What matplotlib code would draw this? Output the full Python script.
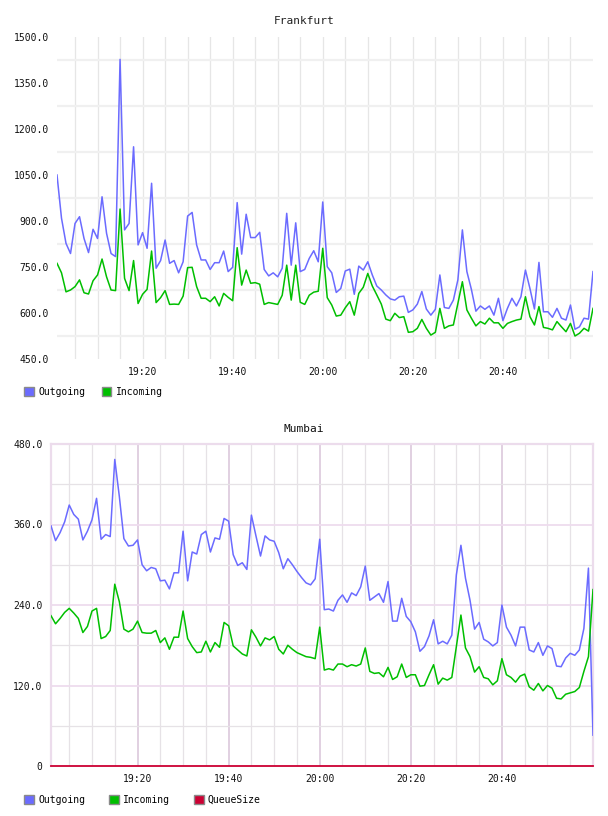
import matplotlib
matplotlib.use("Agg")
import matplotlib.pyplot as plt
from matplotlib.patches import Patch
import numpy as np

# ---- data ----
minutes = np.arange(1, 121)  # minutes after 19:00 (19:01 .. 21:00)
tick_pos = [20, 40, 60, 80, 100]
tick_labels = ["19:20", "19:40", "20:00", "20:20", "20:40"]

fra_out = [1050, 909, 827, 794, 892, 914, 843, 797, 873, 843,
           979, 860, 794, 784, 1427, 871, 892, 1142, 822, 862,
           811, 1023, 746, 771, 838, 762, 771, 731, 767, 916,
           928, 822, 773, 773, 742, 764, 764, 802, 735, 749,
           960, 792, 922, 846, 846, 863, 742, 721, 731, 718,
           746, 925, 756, 894, 735, 742, 778, 803, 767, 962,
           751, 731, 667, 680, 737, 743, 661, 753, 740, 767,
           724, 688, 675, 659, 646, 642, 653, 655, 602, 610,
           629, 670, 613, 593, 612, 724, 618, 615, 642, 708,
           871, 735, 677, 606, 623, 612, 623, 593, 648, 575,
           615, 648, 623, 653, 740, 680, 613, 765, 604, 604,
           586, 615, 583, 577, 626, 547, 555, 583, 580, 735]
fra_in = [762, 731, 669, 675, 686, 708, 666, 662, 705, 724,
          776, 718, 675, 673, 939, 713, 673, 771, 631, 661,
          677, 802, 634, 650, 673, 628, 629, 628, 655, 748,
          749, 686, 648, 648, 637, 653, 623, 664, 651, 640,
          813, 691, 740, 697, 699, 694, 628, 634, 631, 628,
          658, 756, 642, 756, 635, 628, 658, 668, 671, 811,
          650, 626, 590, 593, 617, 637, 593, 664, 684, 729,
          688, 659, 629, 580, 575, 599, 585, 588, 537, 539,
          550, 579, 550, 528, 537, 615, 550, 558, 561, 631,
          702, 610, 583, 558, 572, 564, 583, 568, 568, 550,
          566, 572, 577, 580, 653, 588, 561, 621, 553, 550,
          545, 572, 555, 539, 566, 525, 534, 550, 541, 615]

mum_out = [358, 336, 348, 364, 389, 375, 368, 337, 350, 367,
           399, 338, 345, 342, 457, 402, 339, 328, 329, 337,
           300, 291, 296, 294, 276, 277, 264, 288, 288, 350,
           276, 319, 316, 345, 350, 319, 340, 338, 369, 365,
           315, 299, 303, 293, 374, 343, 313, 343, 337, 335,
           318, 294, 309, 300, 290, 281, 273, 270, 279, 338,
           233, 234, 231, 247, 255, 244, 258, 254, 267, 298,
           247, 252, 257, 244, 275, 216, 216, 250, 223, 215,
           200, 171, 178, 194, 218, 182, 186, 182, 195, 285,
           329, 280, 247, 204, 214, 189, 185, 179, 184, 240,
           207, 195, 179, 207, 207, 173, 170, 184, 165, 179,
           175, 149, 148, 161, 168, 165, 173, 205, 295, 46]
mum_in = [224, 212, 220, 229, 235, 228, 220, 199, 208, 231,
          235, 190, 193, 202, 271, 245, 204, 200, 204, 216,
          199, 198, 198, 202, 184, 191, 174, 192, 192, 231,
          190, 178, 169, 170, 186, 170, 184, 177, 214, 209,
          179, 173, 167, 164, 203, 192, 179, 191, 188, 193,
          174, 167, 180, 174, 169, 166, 163, 162, 160, 207,
          143, 145, 143, 152, 152, 148, 151, 149, 152, 176,
          141, 138, 139, 133, 147, 129, 133, 152, 132, 136,
          136, 119, 120, 136, 151, 122, 131, 128, 132, 178,
          225, 176, 163, 140, 148, 132, 130, 121, 127, 160,
          136, 132, 125, 134, 137, 118, 113, 123, 112, 120,
          116, 101, 100, 107, 109, 111, 117, 141, 163, 263]
mum_queue = [0] * 120

# ---- style ----
C_OUT = "#6b6bff"
C_IN = "#00bf00"
C_Q = "#cc0033"
FONT = "DejaVu Sans Mono"
plt.rcParams["font.family"] = [FONT, "DejaVu Sans"]

fig = plt.figure(figsize=(6.08, 8.16), dpi=100)
W, H = 608.0, 816.0


def ax_rect(l, t, r, b):
    return [l / W, 1 - b / H, (r - l) / W, (b - t) / H]


# ---------------- Frankfurt ----------------
ax1 = fig.add_axes(ax_rect(57, 37, 593, 359))
ax1.set_xlim(1, 120)
ax1.set_ylim(450, 1500)
for m in range(5, 120, 5):
    ax1.axvline(m, color="#e6e6e6", lw=0.9, zorder=0)
for v in np.arange(525, 1500, 150):
    ax1.axhline(v, color="#f0f0f0", lw=1.6, zorder=0)
ax1.plot(minutes, fra_out, color=C_OUT, lw=1.1, zorder=3)
ax1.plot(minutes, fra_in, color=C_IN, lw=1.1, zorder=3)
ax1.set_yticks(np.arange(450, 1501, 150))
ax1.set_yticklabels(["%.1f" % v for v in np.arange(450, 1501, 150)])
ax1.set_xticks(tick_pos)
ax1.set_xticklabels(tick_labels)
for s in ax1.spines.values():
    s.set_visible(False)
ax1.tick_params(length=0, labelsize=7, pad=6, colors="#111111")
fig.text(0.5, 1 - 21 / H, "Frankfurt", ha="center", va="center", fontsize=8, color="#222222")

leg1 = fig.legend(handles=[Patch(facecolor=C_OUT, edgecolor="#8a8a8a", lw=1.0, label="Outgoing"),
                           Patch(facecolor=C_IN, edgecolor="#8a8a8a", lw=1.0, label="Incoming")],
                  loc="center left", bbox_to_anchor=(24 / W, 1 - 392 / H), ncol=2, frameon=False,
                  fontsize=7, handlelength=1.0, handleheight=1.0, handletextpad=0.45,
                  columnspacing=1.7, borderpad=0, borderaxespad=0)

# ---------------- Mumbai ----------------
ax2 = fig.add_axes(ax_rect(51, 444, 593, 766))
ax2.set_xlim(1, 120)
ax2.set_ylim(0, 480)
for m in range(5, 120, 5):
    if m % 20 == 0:
        ax2.axvline(m, color="#dcc8dc", lw=1.2, zorder=0)
    else:
        ax2.axvline(m, color="#e6e2e6", lw=0.9, zorder=0)
for v in [60, 180, 300, 420]:
    ax2.axhline(v, color="#e6e2e6", lw=0.9, zorder=0)
for v in [120, 240, 360]:
    ax2.axhline(v, color="#eedcee", lw=1.3, zorder=0)
ax2.plot(minutes, mum_out, color=C_OUT, lw=1.1, zorder=3)
ax2.plot(minutes, mum_in, color=C_IN, lw=1.1, zorder=3)
ax2.plot(minutes, mum_queue, color=C_Q, lw=1.3, zorder=4, clip_on=False)
yt = [0, 120, 240, 360, 480]
ax2.set_yticks(yt)
ax2.set_yticklabels(["0" if v == 0 else "%.1f" % v for v in yt])
ax2.set_xticks(tick_pos)
ax2.set_xticklabels(tick_labels)
for k in ["left", "right", "top"]:
    ax2.spines[k].set_color("#ecdcec")
    ax2.spines[k].set_linewidth(1.6)
ax2.spines["bottom"].set_visible(False)
ax2.tick_params(length=0, labelsize=7, pad=6, colors="#111111")
fig.text(0.5, 1 - 429 / H, "Mumbai", ha="center", va="center", fontsize=8, color="#111111")

leg2 = fig.legend(handles=[Patch(facecolor=C_OUT, edgecolor="#8a8a8a", lw=1.0, label="Outgoing"),
                           Patch(facecolor=C_IN, edgecolor="#8a8a8a", lw=1.0, label="Incoming"),
                           Patch(facecolor=C_Q, edgecolor="#8a8a8a", lw=1.0, label="QueueSize")],
                  loc="center left", bbox_to_anchor=(24 / W, 1 - 800 / H), ncol=3, frameon=False,
                  fontsize=7, handlelength=1.0, handleheight=1.0, handletextpad=0.45,
                  columnspacing=2.45, borderpad=0, borderaxespad=0)

fig.savefig("out.png", dpi=100, facecolor="white")
